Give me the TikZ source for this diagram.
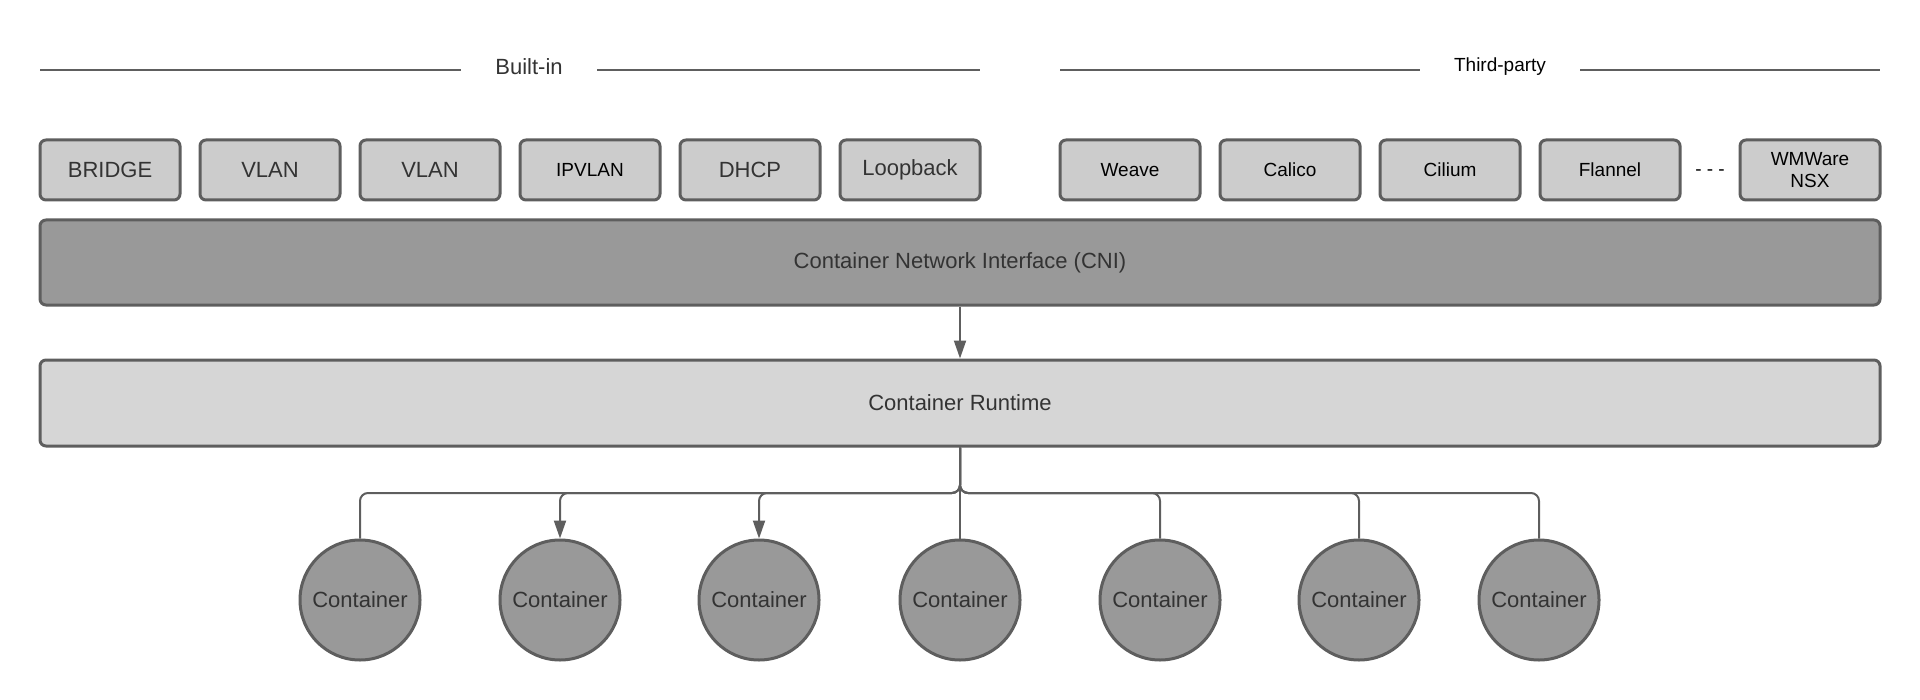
\documentclass[tikz,border=0pt]{standalone}
\usepackage{fontspec}
\setmainfont{Liberation Sans}
\usetikzlibrary{arrows.meta}
\definecolor{edge}{HTML}{5E5E5E}
\definecolor{plugfill}{HTML}{CCCCCC}
\definecolor{cnifill}{HTML}{999999}
\definecolor{rtfill}{HTML}{D6D6D6}
\definecolor{txt}{HTML}{333333}
\begin{document}
\begin{tikzpicture}[x=0.5pt, y=-0.5pt,
        plugin/.style = {draw=edge, line width=1.5pt, fill=plugfill,
                         rounded corners=3pt, minimum width=70pt,
                         minimum height=30pt, inner sep=1pt,
                         align=center, text=txt, font=\fontsize{11}{12}\selectfont},
        plugsm/.style = {plugin, text=black, font=\fontsize{9.5}{11}\selectfont},
          layer/.style = {draw=edge, line width=1.5pt, rounded corners=3pt,
                         minimum width=920pt, text=txt,
                         font=\fontsize{11}{13}\selectfont},
           cont/.style = {circle, draw=edge, line width=1.5pt, fill=cnifill,
                         minimum size=60pt, inner sep=0pt, text=txt,
                         font=\fontsize{11}{13}\selectfont},
           head/.style = {inner xsep=17pt, font=\fontsize{9.5}{11}\selectfont},
           conn/.style = {draw=edge, line width=1pt, rounded corners=4pt},
            arr/.style = {conn, -{Triangle[length=9pt,width=6pt]}}
                                ]
        \useasboundingbox (0,0) rectangle (1920,700);
        % group headers
        \node[head, text=txt, font=\fontsize{11}{13}\selectfont] (builtin) at (529,67) {Built-in};
        \node[head] (third) at (1500,67) {Third-party};
        \coordinate (bl) at (40,70);   \coordinate (br) at (980,70);
        \coordinate (tl) at (1060,70); \coordinate (tr) at (1880,70);
        \draw[edge, line width=1pt] (bl) -- (builtin.west |- bl)
                                    (builtin.east |- br) -- (br);
        \draw[edge, line width=1pt] (tl) -- (third.west |- tl)
                                    (third.east |- tr) -- (tr);

        % plugins
        \node[plugin] (bridge)   at (110,170)  {BRIDGE};
        \node[plugin] (vlana)    at (270,170)  {VLAN};
        \node[plugin] (vlanb)    at (430,170)  {VLAN};
        \node[plugsm] (ipvlan)   at (590,170)  {IPVLAN};
        \node[plugin] (dhcp)     at (750,170)  {DHCP};
        \node[plugin] (loopback) at (910,170)  {Loopback};
        \node[plugsm] (weave)    at (1130,170) {Weave};
        \node[plugsm] (calico)   at (1290,170) {Calico};
        \node[plugsm] (cilium)   at (1450,170) {Cilium};
        \node[plugsm] (flannel)  at (1610,170) {Flannel};
        \node[font=\fontsize{9.5}{11}\selectfont] (more) at (1710,173) {- - -};
        \node[plugsm] (nsx)      at (1810,170) {WMWare\\NSX};

        % layers
        \node[layer, fill=cnifill, minimum height=42.5pt] (cni) at (960,262.5)
            {Container Network Interface (CNI)};
        \node[layer, fill=rtfill, minimum height=43pt] (rt) at (960,403)
            {Container Runtime};
        \draw[arr] (cni) -- (rt);

        % containers
        \foreach \n/\x in {1/360, 2/560, 3/759, 4/960, 5/1160, 6/1359, 7/1539}
            \node[cont] (c\n) at (\x,600) {Container};
        \coordinate (bus) at (960,493);
        \draw[conn] (rt.south) -- (bus) -| (c1.north);
        \draw[arr]  (rt.south) -- (bus) -| (c2.north);
        \draw[arr]  (rt.south) -- (bus) -| (c3.north);
        \draw[conn] (rt.south) -- (c4.north);
        \draw[conn] (rt.south) -- (bus) -| (c5.north);
        \draw[conn] (rt.south) -- (bus) -| (c6.north);
        \draw[conn] (rt.south) -- (bus) -| (c7.north);
    \end{tikzpicture}
\end{document}
